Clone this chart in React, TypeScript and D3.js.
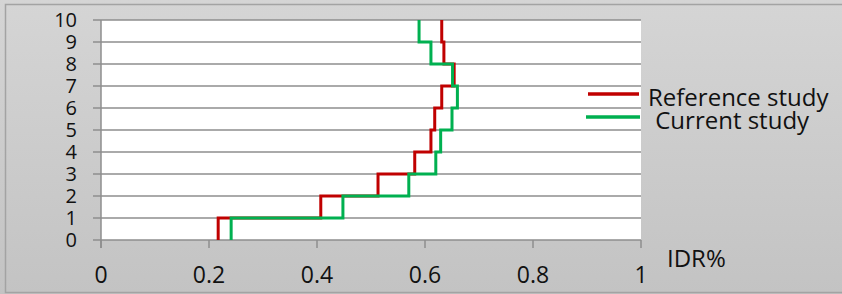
import React from "react";
import * as d3 from "d3";

// x value of each step, one per interval [i, i+1] on the y axis
const levels = [0, 1, 2, 3, 4, 5, 6, 7, 8, 9, 10];
const referenceStudy = [0.217, 0.407, 0.513, 0.581, 0.611, 0.618, 0.631, 0.654, 0.635, 0.631];
const currentStudy = [0.241, 0.448, 0.57, 0.62, 0.629, 0.65, 0.66, 0.651, 0.611, 0.589];
const xTicks = [0, 0.2, 0.4, 0.6, 0.8, 1];
const seriesNames = ["Reference study", " Current study"];
const seriesColors = ["#c00000", "#00b050"];

const width = 842;
const height = 294;
const margin = { top: 20, right: 201, bottom: 54, left: 101 };

const App: React.FC = () => {
  const svgRef = React.useRef<SVGSVGElement | null>(null);

  React.useEffect(() => {
    if (!svgRef.current) return;
    const svg = d3.select(svgRef.current);
    svg.selectAll("*").remove();

    const innerW = width - margin.left - margin.right;
    const innerH = height - margin.top - margin.bottom;
    const x = d3.scaleLinear().domain([0, 1]).range([margin.left, margin.left + innerW]);
    const y = d3.scaleLinear().domain([0, 10]).range([margin.top + innerH, margin.top]);

    const defs = svg.append("defs");
    const grad = defs
      .append("linearGradient")
      .attr("id", "bg")
      .attr("x1", 0)
      .attr("y1", 0)
      .attr("x2", 0)
      .attr("y2", 1);
    grad.append("stop").attr("offset", "0%").attr("stop-color", "#d5d5d5");
    grad.append("stop").attr("offset", "100%").attr("stop-color", "#c3c3c3");

    svg.append("rect").attr("width", width).attr("height", height).attr("fill", "url(#bg)");
    svg
      .append("rect")
      .attr("x", 5.5)
      .attr("y", 4.5)
      .attr("width", 860)
      .attr("height", 288)
      .attr("fill", "none")
      .attr("stroke", "#a3a3a3")
      .attr("stroke-width", 1.5);

    svg
      .append("rect")
      .attr("x", x(0))
      .attr("y", y(10))
      .attr("width", innerW)
      .attr("height", innerH)
      .attr("fill", "#ffffff");

    // gridlines
    svg
      .append("g")
      .selectAll("line")
      .data(levels)
      .join("line")
      .attr("x1", x(0) - 8)
      .attr("x2", x(1))
      .attr("y1", (d) => y(d))
      .attr("y2", (d) => y(d))
      .attr("stroke", "#8e8e8e")
      .attr("stroke-width", 1.5);

    // y axis line
    svg
      .append("line")
      .attr("x1", x(0))
      .attr("x2", x(0))
      .attr("y1", y(10))
      .attr("y2", y(0) + 8)
      .attr("stroke", "#8e8e8e")
      .attr("stroke-width", 1.5);

    // x ticks
    svg
      .append("g")
      .selectAll("line")
      .data(xTicks)
      .join("line")
      .attr("x1", (d) => x(d))
      .attr("x2", (d) => x(d))
      .attr("y1", y(0))
      .attr("y2", y(0) + 8)
      .attr("stroke", "#8e8e8e")
      .attr("stroke-width", 1.5);

    const font = "'Open Sans', 'Noto Sans', sans-serif";

    svg
      .append("g")
      .selectAll("text")
      .data(xTicks)
      .join("text")
      .attr("x", (d) => x(d))
      .attr("y", 283)
      .attr("text-anchor", "middle")
      .attr("font-family", font)
      .attr("font-size", 23)
      .attr("fill", "#111")
      .text((d) => `${d}`);

    svg
      .append("g")
      .selectAll("text")
      .data(levels)
      .join("text")
      .attr("x", 77)
      .attr("y", (d) => y(d))
      .attr("dy", "0.36em")
      .attr("text-anchor", "end")
      .attr("font-family", font)
      .attr("font-size", 20)
      .attr("fill", "#111")
      .text((d) => `${d}`);

    svg
      .append("text")
      .attr("x", 667)
      .attr("y", 267)
      .attr("font-family", font)
      .attr("font-size", 24)
      .attr("fill", "#111")
      .text("IDR%");

    // step lines
    const stepPoints = (vals: number[]) =>
      vals.flatMap((v, i) => [
        [v, levels[i]],
        [v, levels[i + 1]],
      ]);
    const line = d3
      .line<number[]>()
      .x((d) => x(d[0]))
      .y((d) => y(d[1]));

    [referenceStudy, currentStudy].forEach((vals, i) => {
      svg
        .append("path")
        .datum(stepPoints(vals))
        .attr("d", line)
        .attr("fill", "none")
        .attr("stroke", seriesColors[i])
        .attr("stroke-width", 3);
    });

    // legend
    const legendY = [94, 117];
    const legendX = [[588, 639], [586, 640]];
    const labelX = [648, 649];
    seriesNames.forEach((name, i) => {
      svg
        .append("line")
        .attr("x1", legendX[i][0])
        .attr("x2", legendX[i][1])
        .attr("y1", legendY[i])
        .attr("y2", legendY[i])
        .attr("stroke", seriesColors[i])
        .attr("stroke-width", 3.5);
      svg
        .append("text")
        .attr("x", labelX[i])
        .attr("y", legendY[i] + 12)
        .attr("font-family", font)
        .attr("font-size", 24)
        .attr("fill", "#111")
        .attr("xml:space", "preserve")
        .style("white-space", "pre")
        .text(name);
    });
  }, []);

  return (
    <svg
      ref={svgRef}
      width={width}
      height={height}
      style={{ position: "absolute", left: 0, top: 0 }}
    ></svg>
  );
};

export default App;
